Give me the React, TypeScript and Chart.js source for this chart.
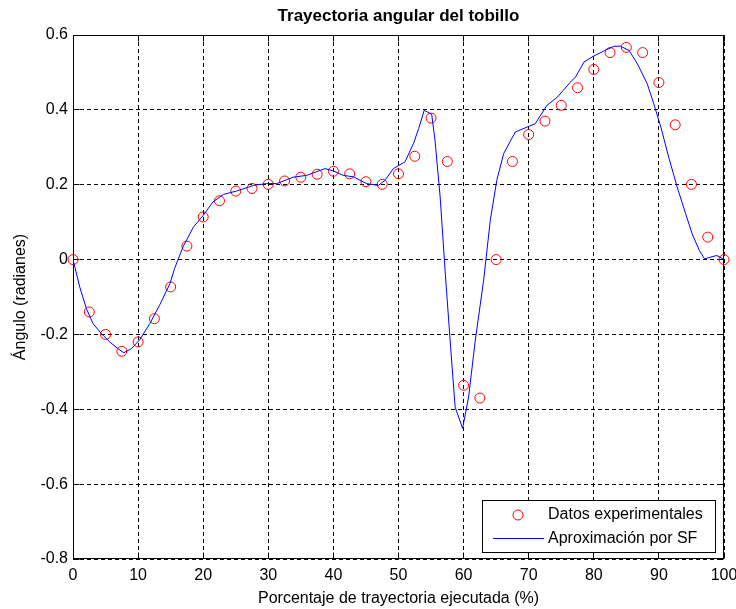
import React, { useEffect, useRef } from 'react';
import { Chart, registerables } from 'chart.js';

Chart.register(...registerables);

// ---- data ----
const expX = [0, 2.5, 5, 7.5, 10, 12.5, 15, 17.5, 20, 22.5, 25, 27.5, 30, 32.5, 35, 37.5, 40, 42.5, 45, 47.5, 50, 52.5, 55, 57.5, 60, 62.5, 65, 67.5, 70, 72.5, 75, 77.5, 80, 82.5, 85, 87.5, 90, 92.5, 95, 97.5, 100];
const expY = [0, -0.14, -0.2, -0.245, -0.22, -0.158, -0.073, 0.036, 0.114, 0.157, 0.183, 0.19, 0.201, 0.21, 0.22, 0.228, 0.236, 0.229, 0.208, 0.201, 0.229, 0.276, 0.378, 0.262, -0.336, -0.37, 0, 0.262, 0.334, 0.37, 0.412, 0.459, 0.508, 0.553, 0.567, 0.553, 0.473, 0.36, 0.201, 0.06, 0];

const sfX = [0, 1.03, 2.06, 3.08, 4.36, 5.64, 6.9, 7.8, 8.97, 10.26, 11.8, 13.3, 14.9, 15.6, 16.9, 18.5, 20, 21.5, 23.1, 25.1, 27.7, 29.7, 31.3, 33.8, 35.9, 38.7, 40, 41.5, 43.1, 45.1, 46.9, 47.95, 49.2, 51, 52.3, 53.1, 53.95, 55.1, 55.6, 56.4, 57.2, 58, 58.7, 59.85, 60.77, 61.8, 63.08, 64.1, 65.1, 66.15, 67.95, 69.75, 71, 72.8, 74.4, 76.4, 77.2, 78.5, 79.9, 81.5, 83.1, 84.1, 85.4, 86.7, 88.2, 89.2, 90.3, 91.5, 92.8, 94.1, 95.1, 96.2, 97.0, 98.9, 100];
const sfY = [0, -0.073, -0.131, -0.171, -0.198, -0.22, -0.238, -0.249, -0.238, -0.214, -0.171, -0.122, -0.064, -0.024, 0.034, 0.087, 0.118, 0.154, 0.174, 0.183, 0.198, 0.203, 0.203, 0.22, 0.225, 0.243, 0.237, 0.225, 0.221, 0.203, 0.198, 0.212, 0.243, 0.261, 0.31, 0.35, 0.399, 0.388, 0.32, 0.167, -0.04, -0.233, -0.394, -0.451, -0.367, -0.215, -0.055, 0.105, 0.212, 0.283, 0.341, 0.354, 0.363, 0.412, 0.434, 0.474, 0.488, 0.528, 0.543, 0.557, 0.57, 0.57, 0.559, 0.523, 0.47, 0.417, 0.354, 0.274, 0.194, 0.123, 0.069, 0.025, 0.002, 0.011, 0];

const xTicks = [0, 10, 20, 30, 40, 50, 60, 70, 80, 90, 100];
const yTicks = [-0.8, -0.6, -0.4, -0.2, 0, 0.2, 0.4, 0.6];

const TITLE = 'Trayectoria angular del tobillo';
const X_LABEL = 'Porcentaje de trayectoria ejecutada (%)';
const Y_LABEL = 'Ángulo (radianes)';
const LEGEND_LABELS = ['Datos experimentales', 'Aproximación por SF'];

const FONT = '"Liberation Sans", Arial, sans-serif';

const fmtY = (v: number) => (Math.abs(v) < 1e-9 ? '0' : v.toFixed(1));

const al = (p: number) => Math.floor(p) + 0.5;

const decoPlugin = {
  id: 'deco',
  beforeDatasetsDraw(chart: any) {
    const { ctx, chartArea: a, scales } = chart;
    const L = al(a.left), R = al(a.right - 1), T = al(a.top), B = al(a.bottom - 1);
    ctx.save();
    ctx.setLineDash([]);
    ctx.strokeStyle = '#000';
    ctx.lineWidth = 1;
    ctx.strokeRect(L, T, R - L, B - T);
    const tl = 6;
    ctx.beginPath();
    xTicks.forEach((v) => {
      const p = al(scales.x.getPixelForValue(v));
      ctx.moveTo(p, B); ctx.lineTo(p, B - tl);
      ctx.moveTo(p, T); ctx.lineTo(p, T + tl);
    });
    yTicks.forEach((v) => {
      const p = al(scales.y.getPixelForValue(v));
      ctx.moveTo(L, p); ctx.lineTo(L + tl, p);
      ctx.moveTo(R, p); ctx.lineTo(R - tl, p);
    });
    ctx.stroke();
    ctx.restore();
  },
  afterDraw(chart: any) {
    const { ctx, chartArea: a } = chart;
    ctx.save();
    ctx.fillStyle = '#000';
    // title
    ctx.font = `bold 17px ${FONT}`;
    ctx.textAlign = 'center';
    ctx.textBaseline = 'alphabetic';
    ctx.fillText(TITLE, (a.left + a.right) / 2, 21);
    // x label
    ctx.font = `16px ${FONT}`;
    ctx.fillText(X_LABEL, (a.left + a.right) / 2, 603);
    // y label
    ctx.save();
    ctx.translate(20.5, (a.top + a.bottom) / 2);
    ctx.rotate(-Math.PI / 2);
    ctx.textBaseline = 'middle';
    ctx.fillText(Y_LABEL, 0, 0);
    ctx.restore();
    // legend
    const bx = 482.5, by = 500.5, bw = 233, bh = 52;
    ctx.fillStyle = '#fff';
    ctx.fillRect(bx, by, bw, bh);
    ctx.strokeStyle = '#000';
    ctx.lineWidth = 1;
    ctx.setLineDash([]);
    ctx.strokeRect(bx, by, bw, bh);
    ctx.strokeStyle = '#ff0000';
    ctx.beginPath();
    ctx.arc(518, 515, 5, 0, Math.PI * 2);
    ctx.stroke();
    ctx.strokeStyle = '#0000ff';
    ctx.beginPath();
    ctx.moveTo(493, 538.5);
    ctx.lineTo(544, 538.5);
    ctx.stroke();
    ctx.fillStyle = '#000';
    ctx.textAlign = 'left';
    ctx.textBaseline = 'middle';
    ctx.font = `16px ${FONT}`;
    ctx.fillText(LEGEND_LABELS[0], 548, 515);
    ctx.fillText(LEGEND_LABELS[1], 548, 539);
    ctx.restore();
  },
};

export default function App() {
  const ref = useRef<HTMLCanvasElement>(null);
  useEffect(() => {
    const canvas = ref.current;
    if (!canvas) return;
    const chart = new Chart(canvas, {
      type: 'scatter',
      data: {
        datasets: [
          {
            label: LEGEND_LABELS[1],
            data: sfX.map((x, i) => ({ x, y: sfY[i] })),
            showLine: true,
            borderColor: '#0000ff',
            borderWidth: 1,
            pointRadius: 0,
            tension: 0,
            order: 0,
          },
          {
            label: LEGEND_LABELS[0],
            data: expX.map((x, i) => ({ x, y: expY[i] })),
            showLine: false,
            pointStyle: 'circle',
            pointRadius: 5,
            pointBorderWidth: 1,
            borderColor: '#ff0000',
            backgroundColor: 'rgba(0,0,0,0)',
            clip: false as any,
            order: 1,
          },
        ],
      },
      options: {
        animation: false,
        responsive: false,
        devicePixelRatio: 1,
        events: [],
        layout: { padding: { top: 35, right: 12, left: 0, bottom: 0 } },
        plugins: {
          legend: { display: false },
          tooltip: { enabled: false },
          title: { display: false },
        },
        scales: {
          x: {
            type: 'linear',
            min: 0,
            max: 100,
            afterBuildTicks: (s: any) => { s.ticks = xTicks.map((v) => ({ value: v })); },
            afterFit: (s: any) => { s.height = 50; s.paddingLeft = 0; s.paddingRight = 0; },
            grid: { color: '#000', lineWidth: 1, drawTicks: false },
            border: { display: false, dash: [4, 3] },
            ticks: {
              autoSkip: false,
              maxRotation: 0,
              padding: 7,
              color: '#000',
              font: { family: FONT, size: 16 },
              callback: (v: any) => String(v),
            },
          },
          y: {
            type: 'linear',
            min: -0.8,
            max: 0.6,
            afterBuildTicks: (s: any) => { s.ticks = yTicks.map((v) => ({ value: v })); },
            afterFit: (s: any) => { s.width = 73; },
            grid: { color: '#000', lineWidth: 1, drawTicks: false },
            border: { display: false, dash: [4, 3] },
            ticks: {
              autoSkip: false,
              padding: 5,
              color: '#000',
              font: { family: FONT, size: 16 },
              callback: (v: any) => fmtY(Number(v)),
            },
          },
        },
      },
      plugins: [decoPlugin],
    });
    return () => chart.destroy();
  }, []);
  return (
    <div style={{ position: 'absolute', left: 0, top: 0, width: 736, height: 609, background: '#fff' }}>
      <canvas ref={ref} width={736} height={609} style={{ display: 'block', width: 736, height: 609 }} />
    </div>
  );
}
